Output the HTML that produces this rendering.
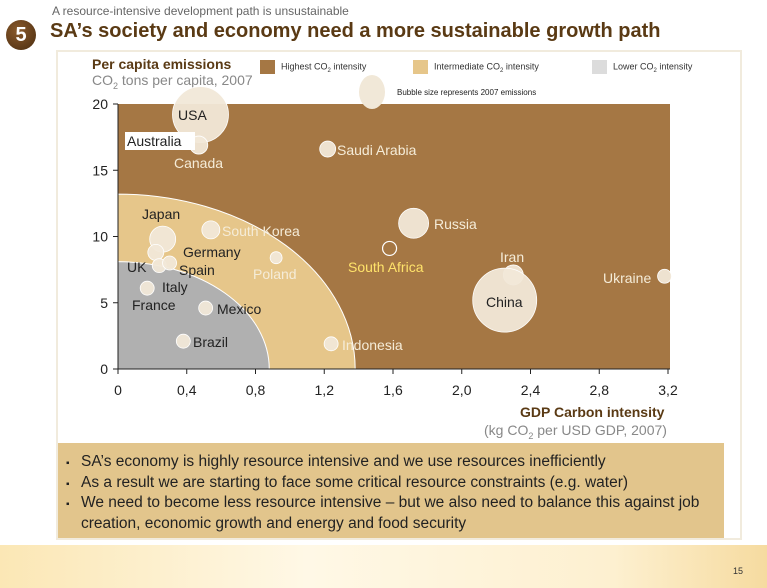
<!DOCTYPE html>
<html><head><meta charset="utf-8">
<style>
body{margin:0;width:767px;height:588px;overflow:hidden;background:#fff;font-family:"Liberation Sans",sans-serif;position:relative}
.abs{position:absolute}
</style></head>
<body>
<div class="abs" style="left:0;top:545px;width:767px;height:43px;background:linear-gradient(90deg,#fbe7b5,#fff8e6 40%,#fdf0d0 80%,#f6dba0)"></div>
<div class="abs" style="left:6px;top:20px;width:30px;height:30px;border-radius:50%;background:radial-gradient(circle at 40% 35%,#8a5a2b,#4a2c10);color:#fff;font-weight:bold;font-size:20px;text-align:center;line-height:30px">5</div>
<div class="abs" style="left:52px;top:4px;font-size:12px;color:#666">A resource-intensive development path is unsustainable</div>
<div class="abs" style="left:50px;top:20px;font-size:20px;font-weight:bold;color:#5a3a14">SA’s society and economy need a more sustainable growth path</div>
<div class="abs" style="left:56px;top:50px;width:686px;height:490px;border:2px solid #f1ebdd;box-sizing:border-box"></div>
<div class="abs" style="left:92px;top:56px;font-size:14px;font-weight:bold;color:#5a3a14">Per capita emissions</div>
<div class="abs" style="left:92px;top:72px;font-size:14px;color:#888">CO<sub style="font-size:9px">2</sub> tons per capita, 2007</div>
<div class="abs" style="left:260px;top:60px;font-size:9px;color:#333"><span style="display:inline-block;width:15px;height:14px;background:#a57744;vertical-align:middle;margin-right:6px"></span>Highest CO<sub style="font-size:6px">2</sub> intensity</div>
<div class="abs" style="left:413px;top:60px;font-size:9px;color:#333"><span style="display:inline-block;width:15px;height:14px;background:#e6c68a;vertical-align:middle;margin-right:6px"></span>Intermediate CO<sub style="font-size:6px">2</sub> intensity</div>
<div class="abs" style="left:592px;top:60px;font-size:9px;color:#333"><span style="display:inline-block;width:15px;height:14px;background:#dcdcdc;vertical-align:middle;margin-right:6px"></span>Lower CO<sub style="font-size:6px">2</sub> intensity</div>
<div class="abs" style="left:397px;top:88px;font-size:8px;color:#222">Bubble size represents 2007 emissions</div>

<svg class="abs" style="left:0;top:0" width="767" height="440">
<g id="g"></g>
</svg>

<div class="abs" style="left:520px;top:404px;font-size:14px;font-weight:bold;color:#5a3a14">GDP Carbon intensity</div>
<div class="abs" style="left:484px;top:422px;font-size:14px;color:#888">(kg CO<sub style="font-size:9px">2</sub> per USD GDP, 2007)</div>

<div class="abs" style="left:58px;top:443px;width:666px;height:95px;background:#e2c58c;box-sizing:border-box;padding:10px 4px 0 8px;font-size:15.5px;color:#222;line-height:18.5px">
<div style="padding-left:15px;text-indent:-15px"><span style="font-size:10px;display:inline-block;width:15px;text-indent:0">▪</span>SA’s economy is highly resource intensive and we use resources inefficiently</div>
<div style="padding-left:15px;text-indent:-15px"><span style="font-size:10px;display:inline-block;width:15px;text-indent:0">▪</span>As a result we are starting to face some critical resource constraints (e.g. water)</div>
<div style="padding-left:15px;text-indent:-15px"><span style="font-size:10px;display:inline-block;width:15px;text-indent:0">▪</span>We need to become less resource intensive – but we also need to balance this against job creation, economic growth and energy and food security</div>
</div>
<div class="abs" style="left:733px;top:566px;font-size:9px;color:#333">15</div>

<script>
const countries=["USA","Australia","Saudi Arabia","Japan","South Korea","Germany","UK","Spain","France","Poland","Mexico","Brazil","Indonesia","Russia","South Africa","Iran","China","Ukraine"];
const intensity=[0.48,0.47,1.22,0.26,0.54,0.22,0.24,0.30,0.17,0.92,0.51,0.38,1.24,1.72,1.58,2.30,2.25,3.18];
const perCapita=[19.2,16.9,16.6,9.8,10.5,8.8,7.8,8.0,6.1,8.4,4.6,2.1,1.9,11.0,9.1,7.1,5.2,7.0];
const bubbleSize=[28,9,8,13,9,8,7,7,7,6,7,7,7,15,7,10,32,7];
const xTicks=["0","0,4","0,8","1,2","1,6","2,0","2,4","2,8","3,2"];
const xTickVals=[0,0.4,0.8,1.2,1.6,2.0,2.4,2.8,3.2];
const yTicks=[0,5,10,15,20];
const zoneX=[1.38,0.88];const zoneY=[13.2,8.1];
const X=v=>118+v*171.875, Y=v=>369-v*13.25;
const NS="http://www.w3.org/2000/svg", g=document.getElementById('g');
function mk(t,a,p){const e=document.createElementNS(NS,t);for(const k in a)e.setAttribute(k,a[k]);(p||g).appendChild(e);return e;}
const bg=mk('rect',{x:X(0),y:Y(20),width:X(3.2)-X(0)+2,height:Y(0)-Y(20),fill:'#a57744'});


const zc=['#e6c68a','#b0b0b0'];
zoneX.forEach((zx,i)=>{const rx=X(zx)-X(0),ry=Y(0)-Y(zoneY[i]);
const p=mk('path',{d:`M${X(0)},${Y(0)} L${X(0)},${Y(0)-ry} A${rx},${ry} 0 0 1 ${X(0)+rx},${Y(0)} Z`,fill:zc[i],stroke:'#fff','stroke-width':1});

});
mk('line',{x1:X(0),y1:Y(0),x2:X(3.2)+2,y2:Y(0),stroke:'#222'});
mk('line',{x1:X(0),y1:Y(0),x2:X(0),y2:Y(20),stroke:'#222'});
xTickVals.forEach((v,i)=>{mk('line',{x1:X(v),y1:Y(0),x2:X(v),y2:Y(0)+5,stroke:'#222'});
const t=mk('text',{x:X(v),y:Y(0)+26,'text-anchor':'middle','font-size':14,fill:'#222'});t.textContent=xTicks[i];

});
yTicks.forEach(v=>{mk('line',{x1:X(0)-5,y1:Y(v),x2:X(0),y2:Y(v),stroke:'#222'});
const t=mk('text',{x:X(0)-10,y:Y(v)+5,'text-anchor':'end','font-size':14,fill:'#222'});t.textContent=v;

});
mk('ellipse',{cx:372,cy:92,rx:13,ry:17,fill:'#f1e8d8'});
countries.forEach((c,i)=>{const sa=c==="South Africa";
const b=mk('circle',{cx:X(intensity[i]),cy:Y(perCapita[i]),r:bubbleSize[i],fill:sa?'none':'#f1e8d8',stroke:'#fff','stroke-width':sa?1.2:0.8,'fill-opacity':0.95});

});
const labels=[["USA",178,120,"#222"],["Canada",174,168,"#f5ecd8"],["Saudi Arabia",337,155,"#f5ecd8"],["Japan",142,219,"#222"],["South Korea",222,236,"#f5ecd8"],["Germany",183,257,"#222"],["UK",127,272,"#222"],["Spain",179,275,"#222"],["Italy",162,292,"#222"],["France",132,310,"#222"],["Poland",253,279,"#f5ecd8"],["Mexico",217,314,"#222"],["Brazil",193,347,"#222"],["Indonesia",342,350,"#f5ecd8"],["Russia",434,229,"#f5ecd8"],["South Africa",348,272,"#ffe36a"],["Iran",500,262,"#f5ecd8"],["China",486,307,"#222"],["Ukraine",603,283,"#f5ecd8"]];
mk('rect',{x:125,y:132,width:70,height:18,fill:'#fff'});
const at=mk('text',{x:127,y:146,'font-size':14,fill:'#222'});at.textContent="Australia";


labels.forEach(l=>{const t=mk('text',{x:l[1],y:l[2],'font-size':14,fill:l[3]});t.textContent=l[0];

});
</script>
</body></html>
